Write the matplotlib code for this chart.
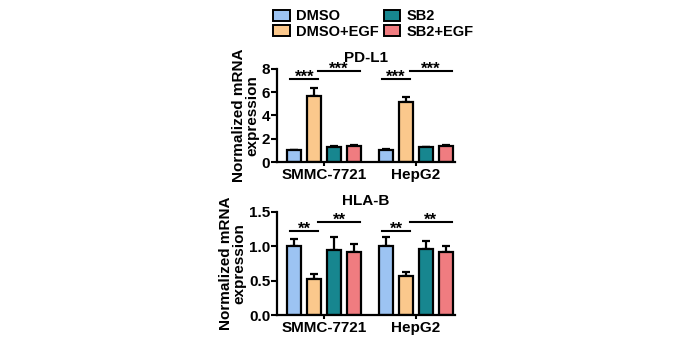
import numpy as np
import matplotlib.pyplot as plt
from matplotlib.patches import Patch

plt.rcParams['font.family'] = ['Liberation Sans', 'DejaVu Sans']
plt.rcParams['font.weight'] = 'bold'

cells = ['SMMC-7721', 'HepG2']
groups = ['DMSO', 'DMSO+EGF', 'SB2', 'SB2+EGF']
colors = ['#9cc3f2', '#fbc88c', '#17868f', '#f07c80']

pdl1_mean = [[1.0, 5.65, 1.3, 1.4], [1.0, 5.15, 1.25, 1.4]]
pdl1_err = [[0.06, 0.7, 0.06, 0.06], [0.08, 0.45, 0.07, 0.06]]
hlab_mean = [[1.0, 0.52, 0.95, 0.91], [1.0, 0.57, 0.96, 0.92]]
hlab_err = [[0.1, 0.08, 0.18, 0.12], [0.13, 0.05, 0.11, 0.08]]

fig = plt.figure(figsize=(6.88, 3.44), dpi=100)
ax1 = fig.add_axes([0.403, 0.529, 0.258, 0.271])
ax2 = fig.add_axes([0.403, 0.084, 0.258, 0.300])

gap = 4.6


def draw(ax, mean, err, title, ylim, yticks, ytl, sig, sig_y, sig_h):
    for g in range(2):
        for i in range(4):
            x = g * gap + i
            ax.bar(x, mean[g][i], width=0.7, color=colors[i],
                   edgecolor='black', linewidth=1.6, zorder=2)
            ax.errorbar(x, mean[g][i], yerr=[[0], [err[g][i]]], fmt='none',
                        ecolor='black', elinewidth=1.6, capsize=3,
                        capthick=1.6, zorder=1)
        # linie istotnosci
        ax.plot([g * gap - 0.2, g * gap + 1.2], [sig_y[0]] * 2,
                color='black', lw=1.5)
        ax.text(g * gap + 0.5, sig_y[0] - sig_h, sig, ha='center',
                va='bottom', fontsize=12, fontweight='bold')
        ax.plot([g * gap + 1.2, g * gap + 3.3], [sig_y[1]] * 2,
                color='black', lw=1.5)
        ax.text(g * gap + 2.25, sig_y[1] - sig_h, sig, ha='center',
                va='bottom', fontsize=12, fontweight='bold')
    ax.set_xlim(-0.85, 8.05)
    ax.set_ylim(*ylim)
    ax.set_yticks(yticks)
    ax.set_yticklabels(ytl, fontsize=11, fontweight='bold')
    ax.set_xticks([1.5, gap + 1.5])
    ax.set_xticklabels(cells, fontsize=11, fontweight='bold')
    ax.tick_params(axis='x', length=3, width=1.5, pad=1)
    ax.tick_params(axis='y', length=4, width=1.5, pad=1)
    for s in ['top', 'right']:
        ax.spines[s].set_visible(False)
    for s in ['left', 'bottom']:
        ax.spines[s].set_linewidth(1.6)
    ax.set_title(title, fontsize=11, fontweight='bold', pad=5)
    ax.set_ylabel('Normalized mRNA\nexpression', fontsize=11,
                  fontweight='bold', linespacing=0.9, labelpad=2)


draw(ax1, pdl1_mean, pdl1_err, 'PD-L1', (0, 8), [0, 2, 4, 6, 8],
     ['0', '2', '4', '6', '8'], '***', [7.1, 7.8], 0.45)
draw(ax2, hlab_mean, hlab_err, 'HLA-B', (0, 1.5), [0, 0.5, 1.0, 1.5],
     ['0.0', '0.5', '1.0', '1.5'], '**', [1.22, 1.35], 0.085)

handles = [Patch(facecolor=c, edgecolor='black', linewidth=1.4) for c in colors]
fig.legend(handles, groups, ncol=2,
           loc='center', bbox_to_anchor=(0.543, 0.93),
           frameon=False, handlelength=1.1, handleheight=0.75,
           handletextpad=0.45, columnspacing=0.35, labelspacing=0.1,
           borderpad=0.0, prop={'weight': 'bold', 'size': 10.5})

plt.savefig('out.png', dpi=100)
